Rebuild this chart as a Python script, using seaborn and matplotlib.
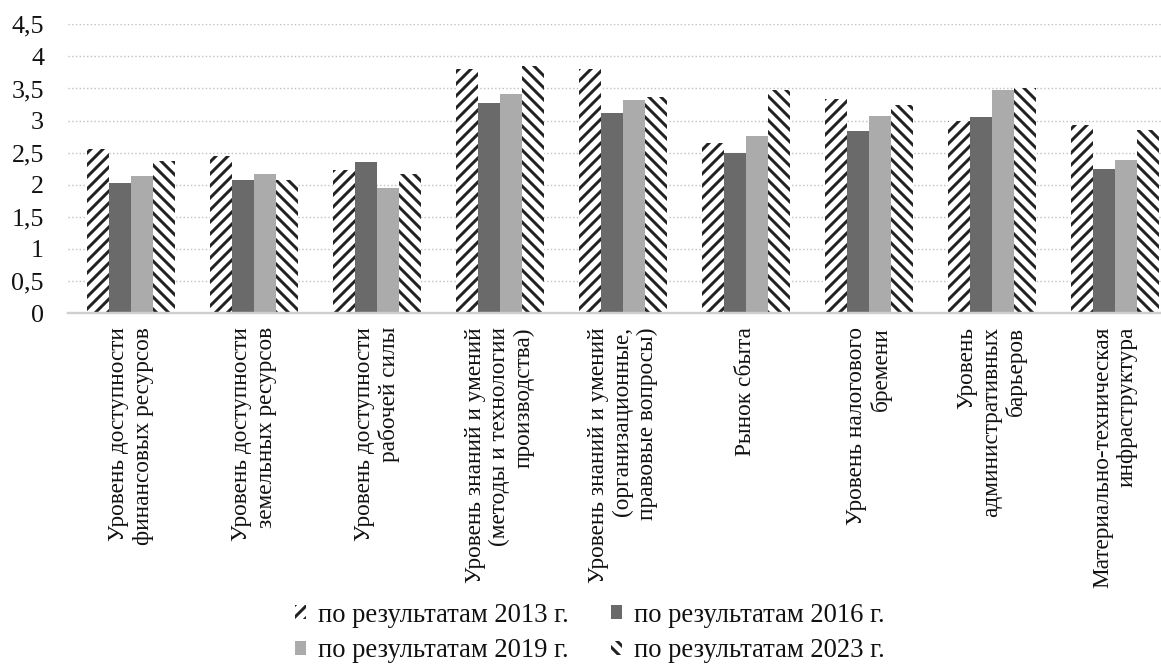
#!/usr/bin/env python3
import matplotlib
matplotlib.use("Agg")
import matplotlib.pyplot as plt
import pandas as pd
import seaborn as sns
from matplotlib.ticker import FuncFormatter, MultipleLocator

categories = [
    "Уровень доступности\nфинансовых ресурсов",
    "Уровень доступности\nземельных ресурсов",
    "Уровень доступности\nрабочей силы",
    "Уровень знаний и умений\n(методы и технологии\nпроизводства)",
    "Уровень знаний и умений\n(организационные,\nправовые вопросы)",
    "Рынок сбыта",
    "Уровень налогового\nбремени",
    "Уровень\nадминистративных\nбарьеров",
    "Материально-техническая\nинфраструктура",
]
years = ["по результатам 2013 г.", "по результатам 2016 г.",
         "по результатам 2019 г.", "по результатам 2023 г."]
values_2013 = [2.55, 2.45, 2.23, 3.80, 3.80, 2.65, 3.33, 3.00, 2.93]
values_2016 = [2.03, 2.07, 2.36, 3.28, 3.12, 2.49, 2.84, 3.06, 2.25]
values_2019 = [2.13, 2.17, 1.95, 3.41, 3.32, 2.76, 3.07, 3.47, 2.39]
values_2023 = [2.37, 2.08, 2.17, 3.85, 3.37, 3.47, 3.24, 3.51, 2.86]

rows = []
for year, vals in zip(years, [values_2013, values_2016, values_2019, values_2023]):
    for cat, v in zip(categories, vals):
        rows.append({"category": cat, "year": year, "value": v})
df = pd.DataFrame(rows)

sns.set_theme(style="white")
plt.rcParams["font.family"] = ["Liberation Serif", "DejaVu Serif"]
plt.rcParams["hatch.linewidth"] = 1.5

fig = plt.figure(figsize=(1161 / 144, 664 / 144), dpi=144)
ax = fig.add_axes([68 / 1161, 1 - 313 / 664, 1 - 68 / 1161, (313 - 24.3) / 664])

palette = ["#ffffff", "#6a6a6a", "#ababab", "#ffffff"]
sns.barplot(data=df, x="category", y="value", hue="year", palette=palette,
            width=0.715, saturation=1, linewidth=0, errorbar=None,
            legend=False, ax=ax)

for cont, hatch in zip(ax.containers, ["////", None, None, "\\\\\\\\"]):
    for bar in cont:
        if hatch:
            bar.set_hatch(hatch)
            bar.set_edgecolor("#222222")
        bar.set_linewidth(0)

ax.set_xlim(-0.512, 8.374)
ax.set_ylim(0, 4.5)
ax.yaxis.set_major_locator(MultipleLocator(0.5))
ax.yaxis.set_major_formatter(FuncFormatter(lambda v, p: f"{v:g}".replace(".", ",")))
ax.yaxis.grid(True, linestyle=":", color="#c0c0c0", linewidth=0.7)
ax.set_axisbelow(True)
for side in ["top", "right", "left"]:
    ax.spines[side].set_visible(False)
ax.spines["bottom"].set_color("#d0d0d0")
ax.spines["bottom"].set_linewidth(1.2)

ax.set_xlabel("")
ax.set_ylabel("")
ax.tick_params(axis="y", length=0, pad=12, labelsize=13, labelcolor="#111111")
ax.tick_params(axis="x", length=0, pad=7, labelsize=11.6, labelcolor="#111111")
for lab in ax.get_xticklabels():
    lab.set_rotation(90)
    lab.set_multialignment("right")
    lab.set_va("top")
    lab.set_ha("center")

# legend is filled column by column, so reorder to read row by row
order = [0, 2, 1, 3]
fig.legend([ax.containers[i] for i in order], [years[i] for i in order],
           loc="center", bbox_to_anchor=(0.508, 0.0467),
           ncol=2, frameon=False, fontsize=13.3, handlelength=0.42,
           handleheight=0.42, handletextpad=0.45, columnspacing=1.6,
           labelspacing=0.4, borderpad=0, labelcolor="#111111")

fig.savefig("out.png", dpi=144)
